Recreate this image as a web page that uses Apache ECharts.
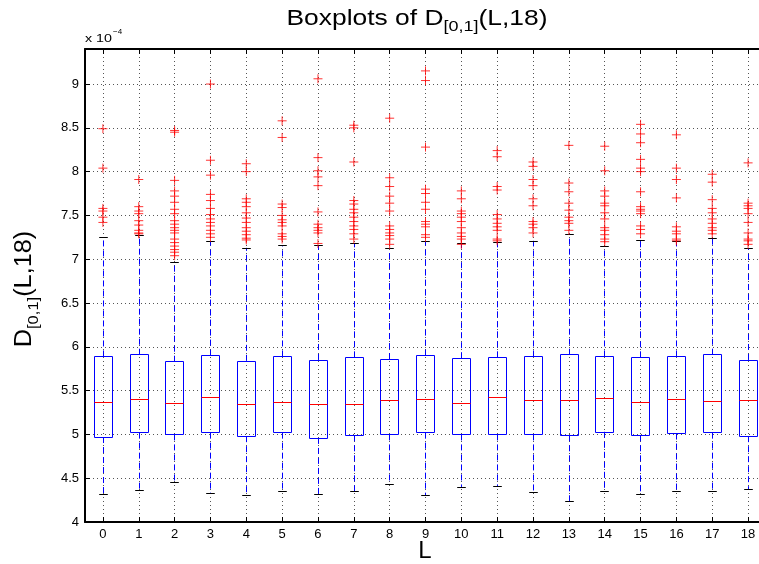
<!DOCTYPE html>
<html>
<head>
<meta charset="utf-8">
<script src="https://cdn.jsdelivr.net/npm/echarts@6/dist/echarts.min.js"></script>
<style>
  html, body { margin: 0; padding: 0; background: #fff; }
  #chart { width: 759px; height: 564px; }
</style>
</head>
<body>
<div id="chart"></div>
<script>
// values are in units of 1e-4 (the axis shows "x 10^-4")
const categories = [0, 1, 2, 3, 4, 5, 6, 7, 8, 9, 10, 11, 12, 13, 14, 15, 16, 17, 18];
const yTicks = [4, 4.5, 5, 5.5, 6, 6.5, 7, 7.5, 8, 8.5, 9];

const lowerWhisker = [4.32, 4.36, 4.45, 4.33, 4.30, 4.35, 4.32, 4.35, 4.43, 4.30, 4.40, 4.41, 4.34, 4.24, 4.35, 4.32, 4.35, 4.35, 4.37];
const q1 =           [4.97, 5.02, 5.00, 5.02, 4.98, 5.02, 4.96, 4.99, 5.00, 5.02, 5.00, 5.00, 5.00, 4.99, 5.03, 4.99, 5.01, 5.02, 4.98];
const median =       [5.37, 5.40, 5.36, 5.42, 5.34, 5.37, 5.35, 5.35, 5.39, 5.40, 5.36, 5.42, 5.39, 5.39, 5.41, 5.37, 5.40, 5.38, 5.39];
const q3 =           [5.89, 5.91, 5.83, 5.90, 5.84, 5.89, 5.85, 5.88, 5.86, 5.90, 5.87, 5.88, 5.89, 5.91, 5.89, 5.88, 5.89, 5.91, 5.85];
const upperWhisker = [7.25, 7.27, 6.97, 7.20, 7.13, 7.16, 7.16, 7.18, 7.13, 7.20, 7.18, 7.19, 7.21, 7.29, 7.15, 7.22, 7.20, 7.24, 7.12];

const outliers = [
  [8.49, 8.04, 7.58, 7.55, 7.48, 7.42],
  [7.91, 7.60, 7.55, 7.52, 7.44, 7.39, 7.33, 7.30, 7.29],
  [8.47, 8.45, 7.90, 7.78, 7.72, 7.65, 7.57, 7.52, 7.44, 7.40, 7.36, 7.33, 7.30, 7.23, 7.19, 7.15, 7.11, 7.08, 7.04],
  [9.00, 8.13, 7.96, 7.74, 7.67, 7.58, 7.51, 7.46, 7.42, 7.38, 7.33, 7.29, 7.25],
  [8.09, 8.00, 7.69, 7.65, 7.60, 7.53, 7.47, 7.42, 7.36, 7.32, 7.28, 7.24, 7.22],
  [8.58, 8.39, 7.63, 7.59, 7.50, 7.45, 7.42, 7.38, 7.29, 7.26, 7.23],
  [9.06, 8.16, 8.01, 7.94, 7.84, 7.54, 7.40, 7.36, 7.33, 7.30, 7.18],
  [8.53, 8.50, 8.11, 7.67, 7.63, 7.57, 7.53, 7.48, 7.43, 7.38, 7.34, 7.29, 7.23],
  [8.61, 7.93, 7.83, 7.72, 7.64, 7.55, 7.38, 7.34, 7.30, 7.27, 7.23, 7.17],
  [9.15, 9.04, 8.28, 7.80, 7.75, 7.65, 7.57, 7.43, 7.40, 7.37, 7.28, 7.25],
  [7.78, 7.69, 7.55, 7.52, 7.48, 7.43, 7.36, 7.30, 7.26, 7.23, 7.17],
  [8.24, 8.17, 7.83, 7.79, 7.51, 7.46, 7.41, 7.37, 7.33, 7.23, 7.21],
  [8.11, 8.06, 7.91, 7.84, 7.69, 7.61, 7.43, 7.40, 7.36, 7.30],
  [8.30, 7.87, 7.77, 7.64, 7.56, 7.48, 7.44, 7.41, 7.33],
  [8.29, 8.01, 7.78, 7.72, 7.64, 7.61, 7.53, 7.46, 7.36, 7.33, 7.28, 7.23, 7.20],
  [8.54, 8.43, 8.33, 8.14, 8.04, 8.00, 7.77, 7.60, 7.57, 7.55, 7.52, 7.38, 7.34, 7.29],
  [8.42, 8.04, 7.91, 7.70, 7.37, 7.32, 7.29, 7.23, 7.21],
  [7.97, 7.88, 7.68, 7.58, 7.53, 7.46, 7.41, 7.36, 7.33, 7.29],
  [8.10, 7.64, 7.61, 7.58, 7.52, 7.42, 7.30, 7.23, 7.21, 7.17]
];

const FONT = 'Liberation Sans';

let boxData = categories.map((c, i) => [c, lowerWhisker[i], q1[i], median[i], q3[i], upperWhisker[i]]);
let outlierData = [];
categories.forEach((c, i) => {
  outliers[i].forEach(v => outlierData.push([c, v]));
});

// same half-pixel snapping as the axis split lines use
function crisp(v) {
  let d = Math.round(v * 2);
  return d % 2 ? d / 2 : (d + 1) / 2;
}

function renderBox(params, api) {
  let x = api.value(0);
  let lo = api.coord([x, api.value(1)]);
  let b1 = api.coord([x, api.value(2)]);
  let md = api.coord([x, api.value(3)]);
  let b3 = api.coord([x, api.value(4)]);
  let hi = api.coord([x, api.value(5)]);
  let band = api.size([1, 0])[0];
  let bw = band * 0.51;
  let cw = band * 0.24;
  let cx = crisp(lo[0]);
  let left = crisp(cx - bw / 2), right = crisp(cx + bw / 2);
  let dash = { stroke: '#0000ff', lineWidth: 1, lineDash: [6, 4] };
  return {
    type: 'group',
    children: [
      { type: 'line', shape: { x1: cx, y1: b1[1], x2: cx, y2: lo[1] }, style: dash },
      { type: 'line', shape: { x1: cx, y1: b3[1], x2: cx, y2: hi[1] }, style: dash },
      { type: 'line', shape: { x1: cx - cw / 2, y1: crisp(lo[1]), x2: cx + cw / 2, y2: crisp(lo[1]) }, style: { stroke: '#000', lineWidth: 1 } },
      { type: 'line', shape: { x1: cx - cw / 2, y1: crisp(hi[1]), x2: cx + cw / 2, y2: crisp(hi[1]) }, style: { stroke: '#000', lineWidth: 1 } },
      { type: 'rect', shape: { x: left, y: crisp(b3[1]), width: right - left, height: crisp(b1[1]) - crisp(b3[1]) }, style: { fill: 'none', stroke: '#0000ff', lineWidth: 1 } },
      { type: 'line', shape: { x1: left, y1: crisp(md[1]), x2: right, y2: crisp(md[1]) }, style: { stroke: '#ff0000', lineWidth: 1 } }
    ]
  };
}

let chart = echarts.init(document.getElementById('chart'), null, { renderer: 'canvas' });

let dotted = { show: true, lineStyle: { color: '#555', width: 1, type: [1, 3] } };

chart.setOption({
  animation: false,
  backgroundColor: '#fff',
  grid: { left: 85, right: -7, top: 49, bottom: 42, outerBoundsMode: 'none' },
  xAxis: [
    {
      type: 'value',
      min: -0.5,
      max: 18.5,
      axisLine: { onZero: false, lineStyle: { color: '#000', width: 2 } },
      axisTick: { inside: true, length: 5, customValues: categories, lineStyle: { color: '#000' } },
      axisLabel: { customValues: categories, margin: 6, fontSize: 13, color: '#000', fontFamily: FONT },
      splitLine: dotted
    },
    {
      type: 'value',
      position: 'top',
      min: -0.5,
      max: 18.5,
      axisLine: { onZero: false, lineStyle: { color: '#000', width: 2 } },
      axisTick: { inside: true, length: 5, customValues: categories, lineStyle: { color: '#000' } },
      axisLabel: { show: false },
      splitLine: { show: false }
    }
  ],
  yAxis: {
    type: 'value',
    min: 4,
    max: 9.4,
    interval: 0.5,
    axisLine: { show: true, onZero: false, lineStyle: { color: '#000', width: 2 } },
    axisTick: { show: true, inside: true, length: 5, lineStyle: { color: '#000' } },
    axisLabel: {
      customValues: yTicks,
      margin: 6, fontSize: 13, color: '#000', fontFamily: FONT,
      formatter: v => String(v)
    },
    splitLine: dotted
  },
  graphic: [
    {
      type: 'text', x: 417, y: 8, scaleX: 1.2,
      style: {
        text: '{m|Boxplots of D}{s|[0,1]}{m|(L,18)}',
        align: 'center', verticalAlign: 'top',
        rich: {
          m: { fontSize: 22, lineHeight: 22, verticalAlign: 'top', fontFamily: FONT, fill: '#000' },
          s: { fontSize: 15, lineHeight: 37, fontFamily: FONT, fill: '#000' }
        }
      }
    },
    {
      type: 'text', x: 13, y: 289, rotation: Math.PI / 2, scaleX: 1.1,
      style: {
        text: '{m|D}{s|[0,1]}{m|(L,18)}',
        align: 'center', verticalAlign: 'top',
        rich: {
          m: { fontSize: 23, lineHeight: 22, verticalAlign: 'top', fontFamily: FONT, fill: '#000' },
          s: { fontSize: 15, lineHeight: 42, fontFamily: FONT, fill: '#000' }
        }
      }
    },
    {
      type: 'text', x: 425, y: 551,
      style: { text: 'L', fontSize: 24, fontFamily: FONT, fill: '#000', align: 'center', verticalAlign: 'middle' }
    },
    {
      type: 'text', x: 85, y: 39, scaleX: 1.3,
      style: { text: 'x 10', fontSize: 11, fontFamily: FONT, fill: '#000', align: 'left', verticalAlign: 'middle' }
    },
    {
      type: 'text', x: 113, y: 32,
      style: { text: '\u22124', fontSize: 8, fontFamily: FONT, fill: '#000', align: 'left', verticalAlign: 'middle' }
    }
  ],
  series: [
    {
      type: 'custom',
      name: 'box',
      renderItem: renderBox,
      encode: { x: 0, y: [1, 2, 3, 4, 5] },
      data: boxData,
      silent: true,
      z: 3
    },
    {
      type: 'scatter',
      name: 'outliers',
      symbol: 'path://M0,5L10,5M5,0L5,10',
      symbolSize: 9,
      itemStyle: { color: 'none', borderColor: '#ff0000', borderWidth: 1 },
      data: outlierData,
      silent: true,
      z: 4
    }
  ]
});
</script>
</body>
</html>
